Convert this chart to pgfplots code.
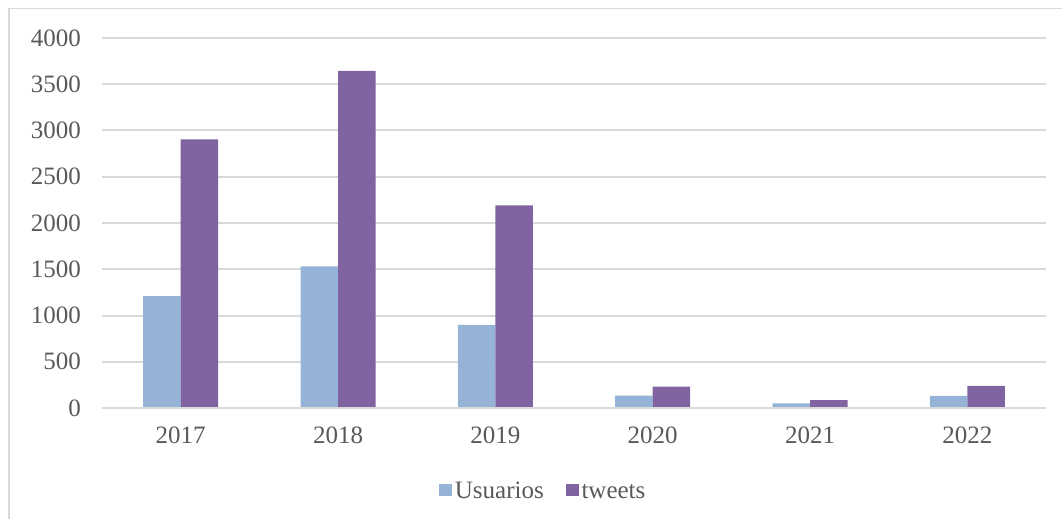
\documentclass[border=0pt]{standalone}
\usepackage{fontspec}
\setmainfont{Liberation Serif}
\usepackage{pgfplots}
\pgfplotsset{compat=1.18}
\definecolor{usu}{HTML}{95B3D7}
\definecolor{twe}{HTML}{8064A2}
\definecolor{gridc}{HTML}{D9D9D9}
\definecolor{txt}{HTML}{595959}
\begin{document}
\fontsize{25}{29}\selectfont
\begin{tikzpicture}[x=1pt,y=1pt]
\path[use as bounding box] (0,0) rectangle (1062,519);
\draw[gridc, line width=1.5pt] (9,0) -- (9,510.5) -- (1062,510.5);
\begin{axis}[
  at={(102pt,111pt)}, anchor=south west,
  scale only axis, width=944pt, height=370pt,
  xmin=-0.5, xmax=5.5, ymin=0, ymax=4000,
  ybar=0pt, bar width=37.5pt,
  xtick={0,1,2,3,4,5},
  xticklabels={2017,2018,2019,2020,2021,2022},
  ytick={0,500,...,4000},
  axis line style={draw=none},
  major tick length=0pt,
  ymajorgrids, grid style={gridc, line width=2pt},
  tick label style={text=txt, font=\fontsize{25}{29}\selectfont},
  xticklabel style={inner sep=0pt, anchor=north, yshift=-19pt},
  yticklabel style={inner sep=0pt, anchor=east, xshift=-21pt},
  /pgf/number format/assume math mode=true,
  /pgf/number format/1000 sep={},
  legend columns=2,
  legend style={draw=none, fill=none, at={(0.468,-0.2216)}, anchor=center,
    font=\fontsize{25}{29}\selectfont, text=txt,
    nodes={text height=0.68em, text depth=0.02em, inner xsep=3pt},
    /tikz/every even column/.style={column sep=19pt}},
  legend image code/.code={\fill[#1] (0pt,-6.35pt) rectangle (12.7pt,6.35pt);},
  every axis plot/.append style={draw=none},
]
\addplot[fill=usu] coordinates {(0,1210) (1,1530) (2,900) (3,135) (4,50) (5,130)};
\addplot[fill=twe] coordinates {(0,2905) (1,3645) (2,2190) (3,232) (4,85) (5,240)};
\draw[gridc, line width=2pt] (axis cs:-0.5,0) -- (axis cs:5.5,0);
\legend{Usuarios,tweets}
\end{axis}
\end{tikzpicture}
\end{document}
